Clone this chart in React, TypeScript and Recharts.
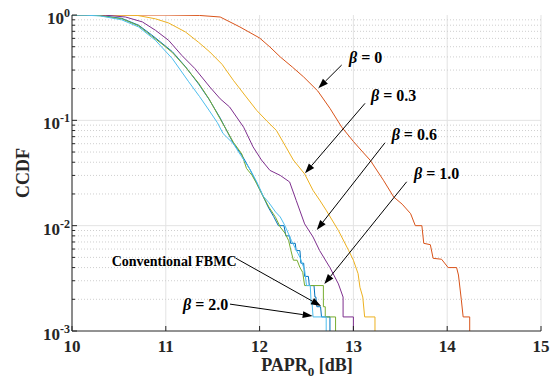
import { LineChart, Line, XAxis, YAxis, CartesianGrid, ReferenceLine, ReferenceDot } from 'recharts';

const FONT = '"Liberation Serif", "Times New Roman", serif';
const INK = '#262626';

const xTicks = [10, 11, 12, 13, 14, 15];
const yDecades = [0.001, 0.01, 0.1, 1];
const yMinor = [
  0.002, 0.003, 0.004, 0.005, 0.006, 0.007, 0.008, 0.009,
  0.02, 0.03, 0.04, 0.05, 0.06, 0.07, 0.08, 0.09,
  0.2, 0.3, 0.4, 0.5, 0.6, 0.7, 0.8, 0.9,
];
const yTicks = [...yDecades, ...yMinor].sort((a, b) => a - b);

// [PAPR0 dB, CCDF]
const fbmc = [
  [10, 1], [10.2, 0.997], [10.3, 0.989], [10.53, 0.93], [10.71, 0.8], [10.85, 0.646], [10.96, 0.539],
  [11.07, 0.448], [11.21, 0.323], [11.35, 0.221], [11.46, 0.159], [11.58, 0.105], [11.72, 0.0605],
  [11.81, 0.0469], [11.9, 0.0338], [11.97, 0.0252], [12.04, 0.0188], [12.09, 0.0151], [12.15, 0.0122],
  [12.2, 0.01], [12.26, 0.01], [12.28, 0.008], [12.32, 0.008], [12.33, 0.0068], [12.38, 0.0068],
  [12.39, 0.0058], [12.43, 0.0058], [12.44, 0.0044], [12.47, 0.0044], [12.48, 0.0033], [12.52, 0.0033],
  [12.53, 0.0027], [12.58, 0.0027], [12.59, 0.0021], [12.6, 0.0021], [12.61, 0.0017], [12.65, 0.0017],
  [12.66, 0.00136], [12.75, 0.00136], [12.75, 0.001],
];
const beta0 = [
  [10, 1], [11, 0.999], [11.36, 0.99], [11.58, 0.957], [11.79, 0.77], [12.0, 0.605], [12.11, 0.497],
  [12.22, 0.4], [12.35, 0.32], [12.47, 0.258], [12.62, 0.19], [12.75, 0.13], [12.875, 0.0863],
  [13.0, 0.063], [13.1, 0.05], [13.18, 0.0417], [13.32, 0.027], [13.43, 0.0187], [13.52, 0.016],
  [13.61, 0.013], [13.66, 0.01], [13.73, 0.01], [13.75, 0.0068], [13.82, 0.0066], [13.85, 0.0049],
  [13.94, 0.0048], [14.01, 0.004], [14.1, 0.004], [14.12, 0.0034], [14.15, 0.002], [14.17, 0.00136],
  [14.24, 0.00136], [14.24, 0.001],
];
const beta03 = [
  [10, 1], [10.53, 0.998], [10.7, 0.99], [10.89, 0.92], [11.03, 0.84], [11.21, 0.69], [11.35, 0.55],
  [11.47, 0.445], [11.6, 0.34], [11.72, 0.24], [11.85, 0.17], [11.97, 0.124], [12.08, 0.098],
  [12.18, 0.08], [12.27, 0.058], [12.36, 0.042], [12.48, 0.031], [12.57, 0.0216], [12.64, 0.0175],
  [12.71, 0.014], [12.84, 0.009], [12.95, 0.0058], [13.0, 0.0047], [13.05, 0.0035], [13.07, 0.0026],
  [13.1, 0.0021], [13.12, 0.00136], [13.23, 0.00136], [13.23, 0.001],
];
const beta06 = [
  [10, 1], [10.36, 0.995], [10.57, 0.957], [10.75, 0.86], [10.89, 0.716], [11.03, 0.575], [11.17, 0.414],
  [11.31, 0.31], [11.47, 0.207], [11.58, 0.16], [11.68, 0.134], [11.83, 0.086], [11.93, 0.056],
  [12.02, 0.042], [12.11, 0.0335], [12.22, 0.03], [12.32, 0.026], [12.39, 0.0174], [12.48, 0.0104],
  [12.57, 0.0078], [12.64, 0.0058], [12.75, 0.004], [12.84, 0.0028], [12.89, 0.0021], [12.89, 0.00136],
  [13.0, 0.00136], [13.0, 0.001],
];
const beta10 = [
  [10, 1], [10.2, 0.995], [10.3, 0.985], [10.53, 0.92], [10.71, 0.79], [10.85, 0.63], [10.96, 0.53],
  [11.07, 0.44], [11.21, 0.32], [11.35, 0.225], [11.46, 0.16], [11.58, 0.103], [11.65, 0.08],
  [11.72, 0.062], [11.81, 0.048], [11.86, 0.035], [11.92, 0.03], [11.97, 0.025], [12.04, 0.0188],
  [12.1, 0.015], [12.17, 0.012], [12.22, 0.0097], [12.27, 0.0085], [12.31, 0.0072], [12.33, 0.006],
  [12.36, 0.0047], [12.4, 0.0047], [12.43, 0.004], [12.46, 0.0036], [12.48, 0.0027], [12.68, 0.0027],
  [12.68, 0.0017], [12.7, 0.0017], [12.7, 0.00136], [12.81, 0.00136], [12.81, 0.001],
];
const beta20 = [
  [10, 1], [10.15, 0.995], [10.3, 0.98], [10.53, 0.9], [10.71, 0.77], [10.89, 0.575], [11.07, 0.385],
  [11.24, 0.235], [11.36, 0.168], [11.46, 0.125], [11.55, 0.095], [11.61, 0.075], [11.72, 0.06],
  [11.81, 0.045], [11.9, 0.034], [11.97, 0.026], [12.04, 0.019], [12.1, 0.0165], [12.17, 0.0135],
  [12.22, 0.0121], [12.27, 0.01], [12.34, 0.0072], [12.43, 0.005], [12.48, 0.0038], [12.5, 0.0027],
  [12.54, 0.0027], [12.55, 0.0018], [12.56, 0.0018], [12.57, 0.00136], [12.71, 0.00136], [12.71, 0.001],
];

const series = [
  { name: 'Conventional FBMC', pts: fbmc, color: '#0072BD' },
  { name: 'beta=0', pts: beta0, color: '#D95319' },
  { name: 'beta=0.3', pts: beta03, color: '#EDB120' },
  { name: 'beta=0.6', pts: beta06, color: '#7E2F8E' },
  { name: 'beta=1.0', pts: beta10, color: '#77AC30' },
  { name: 'beta=2.0', pts: beta20, color: '#4DBEEE' },
];

// text anchor (left, baseline) and arrow tail -> head, in data units
const notes = [
  { label: '0', beta: true, tx: 12.953, ty: 0.3477, x1: 12.875, y1: 0.335, x2: 12.626, y2: 0.2015 },
  { label: '0.3', beta: true, tx: 13.188, ty: 0.1526, x1: 13.124, y1: 0.145, x2: 12.484, y2: 0.0314 },
  { label: '0.6', beta: true, tx: 13.408, ty: 0.0651, x1: 13.337, y1: 0.0613, x2: 12.609, y2: 0.0091 },
  { label: '1.0', beta: true, tx: 13.646, ty: 0.0277, x1: 13.568, y1: 0.0261, x2: 12.69, y2: 0.00279 },
  { label: 'Conventional FBMC', beta: false, tx: 10.423, ty: 0.00414, x1: 11.748, y1: 0.0049, x2: 12.655, y2: 0.001727 },
  { label: '2.0', beta: true, tx: 11.183, ty: 0.00158, x1: 11.684, y1: 0.0018, x2: 12.566, y2: 0.001387 },
];

const toPts = (arr: number[][]) => arr.map(([x, y]) => ({ x, y }));

const isDecade = (v: number) => Math.abs(Math.log10(v) - Math.round(Math.log10(v))) < 1e-6;

function BottomTick({ x, y, payload }: any) {
  return (
    <g>
      <line x1={x} x2={x} y1={y} y2={y - 5} stroke={INK} />
      <text x={x} y={y + 21} textAnchor="middle" fontFamily={FONT} fontWeight="bold" fontSize={17} fill={INK}>
        {payload.value}
      </text>
    </g>
  );
}

function TopTick({ x, y }: any) {
  return <line x1={x} x2={x} y1={y} y2={y + 5} stroke={INK} />;
}

function LeftTick({ x, y, payload }: any) {
  const v = payload.value;
  const major = isDecade(v);
  return (
    <g>
      <line x1={x} x2={x + (major ? 5 : 3)} y1={y} y2={y} stroke={INK} />
      {major && (
        <text x={x - 2} y={y + 9} textAnchor="end" fontFamily={FONT} fontWeight="bold" fontSize={17} fill={INK}>
          10<tspan dy={-7} fontSize={12}>{Math.round(Math.log10(v))}</tspan>
        </text>
      )}
    </g>
  );
}

function RightTick({ x, y, payload }: any) {
  const major = isDecade(payload.value);
  return <line x1={x} x2={x - (major ? 5 : 3)} y1={y} y2={y} stroke={INK} />;
}

function Arrow({ x1, y1, x2, y2 }: any) {
  const a = Math.atan2(y2 - y1, x2 - x1);
  const L = 10;
  const W = 3.5;
  const bx = x2 - L * Math.cos(a);
  const by = y2 - L * Math.sin(a);
  const pts = `${x2},${y2} ${bx - W * Math.sin(a)},${by + W * Math.cos(a)} ${bx + W * Math.sin(a)},${by - W * Math.cos(a)}`;
  return (
    <g>
      <line x1={x1} y1={y1} x2={bx} y2={by} stroke="#000" strokeWidth={1} />
      <polygon points={pts} fill="#000" />
    </g>
  );
}

function noteText(n: any) {
  return ({ cx, cy }: any) =>
    n.beta ? (
      <text x={cx} y={cy} fontFamily={FONT} fontWeight="bold" fontSize={16} fill="#000">
        <tspan fontStyle="italic">β</tspan>
        <tspan>{' = ' + n.label}</tspan>
      </text>
    ) : (
      <text x={cx} y={cy} fontFamily={FONT} fontWeight="bold" fontSize={14} fill="#000">
        {n.label}
      </text>
    );
}

export default function App() {
  return (
    <div style={{ position: 'absolute', left: 0, top: 0, width: 553, height: 381, background: '#fff' }}>
      <LineChart width={553} height={381} margin={{ top: 15, right: 12, bottom: 0, left: 0 }}>
        <CartesianGrid horizontal={false} stroke="#e3e3e3" />
        {yMinor.map((v) => (
          <ReferenceLine key={`m${v}`} y={v} stroke="#cfcfcf" strokeDasharray="1 2" />
        ))}
        {[0.01, 0.1].map((v) => (
          <ReferenceLine key={`M${v}`} y={v} stroke="#e3e3e3" />
        ))}
        <XAxis
          dataKey="x"
          type="number"
          domain={[10, 15]}
          ticks={xTicks}
          interval={0}
          allowDataOverflow
          height={50}
          tickSize={0}
          tickMargin={0}
          tick={<BottomTick />}
          axisLine={{ stroke: INK }}
          tickLine={false}
        />
        <XAxis
          xAxisId="top"
          orientation="top"
          type="number"
          domain={[10, 15]}
          ticks={xTicks}
          interval={0}
          allowDataOverflow
          height={0}
          tickSize={0}
          tickMargin={0}
          tick={<TopTick />}
          axisLine={{ stroke: INK }}
          tickLine={false}
        />
        <YAxis
          scale="log"
          type="number"
          domain={[0.001, 1]}
          ticks={yTicks}
          interval={0}
          allowDataOverflow
          width={72}
          tickSize={0}
          tickMargin={0}
          tick={<LeftTick />}
          axisLine={{ stroke: INK }}
          tickLine={false}
        />
        <YAxis
          yAxisId="right"
          orientation="right"
          scale="log"
          type="number"
          domain={[0.001, 1]}
          ticks={yTicks}
          interval={0}
          allowDataOverflow
          width={0}
          tickSize={0}
          tickMargin={0}
          tick={<RightTick />}
          axisLine={{ stroke: INK }}
          tickLine={false}
        />
        {series.map((s) => (
          <Line
            key={s.name}
            name={s.name}
            data={toPts(s.pts)}
            dataKey="y"
            type="linear"
            stroke={s.color}
            strokeWidth={1}
            dot={false}
            isAnimationActive={false}
          />
        ))}
        {notes.map((n) => (
          <ReferenceLine
            key={`a${n.label}`}
            segment={[{ x: n.x1, y: n.y1 }, { x: n.x2, y: n.y2 }]}
            shape={(p: any) => <Arrow {...p} />}
            ifOverflow="visible"
          />
        ))}
        {notes.map((n) => (
          <ReferenceDot key={`t${n.label}`} x={n.tx} y={n.ty} ifOverflow="visible" shape={noteText(n)} />
        ))}
      </LineChart>
      <svg width={553} height={381} style={{ position: 'absolute', left: 0, top: 0, pointerEvents: 'none' }}>
        <text x={307} y={371} textAnchor="middle" fontFamily={FONT} fontWeight="bold" fontSize={18} fill={INK}>
          PAPR<tspan dy={5} fontSize={13}>0</tspan>
          <tspan dy={-5}>{' [dB]'}</tspan>
        </text>
        <text
          transform="translate(29,173) rotate(-90)"
          textAnchor="middle"
          fontFamily={FONT}
          fontWeight="bold"
          fontSize={18}
          fill={INK}
        >
          CCDF
        </text>
      </svg>
    </div>
  );
}
